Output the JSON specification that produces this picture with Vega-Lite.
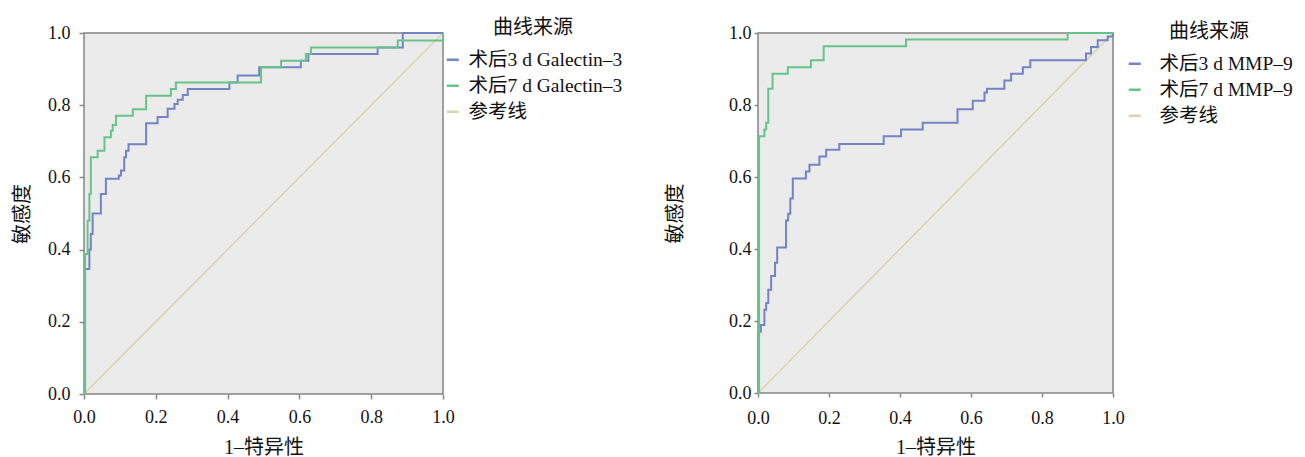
{
  "$schema": "https://vega.github.io/schema/vega-lite/v6.json",
  "background": "#ffffff",
  "padding": {"left": 11, "top": 17, "right": 5, "bottom": 0},
  "spacing": 40,
  "config": {
    "view": {"fill": "#ebebeb", "stroke": "#858585", "strokeWidth": 1.5},
    "axis": {"grid": false, "domain": false, "tickColor": "#8a8a8a", "tickWidth": 1.5, "tickSize": 5,
             "labelFont": "Liberation Serif", "labelFontSize": 18, "labelColor": "#111111",
             "labelFlush": false, "labelOverlap": false,
             "titleFont": "Liberation Serif, Noto Sans CJK SC", "titleFontSize": 20, "titleFontWeight": "normal", "titleColor": "#111111"},
    "legend": {"orient": "none", "symbolType": "stroke", "symbolStrokeWidth": 2.5, "symbolSize": 144,
               "labelFont": "Liberation Serif, Noto Sans CJK SC", "labelFontSize": 19.5, "labelColor": "#111111",
               "titleFont": "Noto Sans CJK SC", "titleFontSize": 20, "titleFontWeight": "normal", "titleColor": "#111111",
               "titleAnchor": "middle", "titlePadding": 12, "rowPadding": 5, "padding": 0}
  },
  "datasets": {
    "roc": [
      {"p": "L", "s": "参考线", "x": 0, "y": 0, "o": 0},
      {"p": "L", "s": "参考线", "x": 1, "y": 1, "o": 1},
      {"p": "L", "s": "术后3 d Galectin–3", "x": 0, "y": 0, "o": 0},
      {"p": "L", "s": "术后3 d Galectin–3", "x": 0.003, "y": 0.346, "o": 1},
      {"p": "L", "s": "术后3 d Galectin–3", "x": 0.015, "y": 0.40, "o": 2},
      {"p": "L", "s": "术后3 d Galectin–3", "x": 0.019, "y": 0.443, "o": 3},
      {"p": "L", "s": "术后3 d Galectin–3", "x": 0.024, "y": 0.50, "o": 4},
      {"p": "L", "s": "术后3 d Galectin–3", "x": 0.047, "y": 0.554, "o": 5},
      {"p": "L", "s": "术后3 d Galectin–3", "x": 0.061, "y": 0.596, "o": 6},
      {"p": "L", "s": "术后3 d Galectin–3", "x": 0.097, "y": 0.605, "o": 7},
      {"p": "L", "s": "术后3 d Galectin–3", "x": 0.103, "y": 0.619, "o": 8},
      {"p": "L", "s": "术后3 d Galectin–3", "x": 0.112, "y": 0.656, "o": 9},
      {"p": "L", "s": "术后3 d Galectin–3", "x": 0.117, "y": 0.674, "o": 10},
      {"p": "L", "s": "术后3 d Galectin–3", "x": 0.124, "y": 0.692, "o": 11},
      {"p": "L", "s": "术后3 d Galectin–3", "x": 0.173, "y": 0.75, "o": 12},
      {"p": "L", "s": "术后3 d Galectin–3", "x": 0.205, "y": 0.767, "o": 13},
      {"p": "L", "s": "术后3 d Galectin–3", "x": 0.233, "y": 0.79, "o": 14},
      {"p": "L", "s": "术后3 d Galectin–3", "x": 0.252, "y": 0.803, "o": 15},
      {"p": "L", "s": "术后3 d Galectin–3", "x": 0.261, "y": 0.815, "o": 16},
      {"p": "L", "s": "术后3 d Galectin–3", "x": 0.275, "y": 0.828, "o": 17},
      {"p": "L", "s": "术后3 d Galectin–3", "x": 0.289, "y": 0.845, "o": 18},
      {"p": "L", "s": "术后3 d Galectin–3", "x": 0.405, "y": 0.863, "o": 19},
      {"p": "L", "s": "术后3 d Galectin–3", "x": 0.428, "y": 0.882, "o": 20},
      {"p": "L", "s": "术后3 d Galectin–3", "x": 0.488, "y": 0.905, "o": 21},
      {"p": "L", "s": "术后3 d Galectin–3", "x": 0.604, "y": 0.923, "o": 22},
      {"p": "L", "s": "术后3 d Galectin–3", "x": 0.625, "y": 0.942, "o": 23},
      {"p": "L", "s": "术后3 d Galectin–3", "x": 0.818, "y": 0.960, "o": 24},
      {"p": "L", "s": "术后3 d Galectin–3", "x": 0.888, "y": 1.0, "o": 25},
      {"p": "L", "s": "术后3 d Galectin–3", "x": 1.0, "y": 1.0, "o": 26},
      {"p": "L", "s": "术后7 d Galectin–3", "x": 0, "y": 0, "o": 0},
      {"p": "L", "s": "术后7 d Galectin–3", "x": 0.003, "y": 0.388, "o": 1},
      {"p": "L", "s": "术后7 d Galectin–3", "x": 0.010, "y": 0.48, "o": 2},
      {"p": "L", "s": "术后7 d Galectin–3", "x": 0.015, "y": 0.554, "o": 3},
      {"p": "L", "s": "术后7 d Galectin–3", "x": 0.019, "y": 0.656, "o": 4},
      {"p": "L", "s": "术后7 d Galectin–3", "x": 0.038, "y": 0.674, "o": 5},
      {"p": "L", "s": "术后7 d Galectin–3", "x": 0.057, "y": 0.711, "o": 6},
      {"p": "L", "s": "术后7 d Galectin–3", "x": 0.075, "y": 0.729, "o": 7},
      {"p": "L", "s": "术后7 d Galectin–3", "x": 0.080, "y": 0.745, "o": 8},
      {"p": "L", "s": "术后7 d Galectin–3", "x": 0.089, "y": 0.771, "o": 9},
      {"p": "L", "s": "术后7 d Galectin–3", "x": 0.136, "y": 0.789, "o": 10},
      {"p": "L", "s": "术后7 d Galectin–3", "x": 0.173, "y": 0.826, "o": 11},
      {"p": "L", "s": "术后7 d Galectin–3", "x": 0.242, "y": 0.845, "o": 12},
      {"p": "L", "s": "术后7 d Galectin–3", "x": 0.256, "y": 0.863, "o": 13},
      {"p": "L", "s": "术后7 d Galectin–3", "x": 0.493, "y": 0.905, "o": 14},
      {"p": "L", "s": "术后7 d Galectin–3", "x": 0.549, "y": 0.923, "o": 15},
      {"p": "L", "s": "术后7 d Galectin–3", "x": 0.618, "y": 0.942, "o": 16},
      {"p": "L", "s": "术后7 d Galectin–3", "x": 0.632, "y": 0.960, "o": 17},
      {"p": "L", "s": "术后7 d Galectin–3", "x": 0.874, "y": 0.979, "o": 18},
      {"p": "L", "s": "术后7 d Galectin–3", "x": 1.0, "y": 1.0, "o": 19},
      {"p": "R", "s": "参考线", "x": 0, "y": 0, "o": 0},
      {"p": "R", "s": "参考线", "x": 1, "y": 1, "o": 1},
      {"p": "R", "s": "术后3 d MMP–9", "x": 0, "y": 0, "o": 0},
      {"p": "R", "s": "术后3 d MMP–9", "x": 0.002, "y": 0.170, "o": 1},
      {"p": "R", "s": "术后3 d MMP–9", "x": 0.008, "y": 0.189, "o": 2},
      {"p": "R", "s": "术后3 d MMP–9", "x": 0.018, "y": 0.231, "o": 3},
      {"p": "R", "s": "术后3 d MMP–9", "x": 0.023, "y": 0.25, "o": 4},
      {"p": "R", "s": "术后3 d MMP–9", "x": 0.029, "y": 0.287, "o": 5},
      {"p": "R", "s": "术后3 d MMP–9", "x": 0.037, "y": 0.325, "o": 6},
      {"p": "R", "s": "术后3 d MMP–9", "x": 0.048, "y": 0.362, "o": 7},
      {"p": "R", "s": "术后3 d MMP–9", "x": 0.054, "y": 0.404, "o": 8},
      {"p": "R", "s": "术后3 d MMP–9", "x": 0.079, "y": 0.479, "o": 9},
      {"p": "R", "s": "术后3 d MMP–9", "x": 0.085, "y": 0.498, "o": 10},
      {"p": "R", "s": "术后3 d MMP–9", "x": 0.091, "y": 0.540, "o": 11},
      {"p": "R", "s": "术后3 d MMP–9", "x": 0.098, "y": 0.596, "o": 12},
      {"p": "R", "s": "术后3 d MMP–9", "x": 0.135, "y": 0.615, "o": 13},
      {"p": "R", "s": "术后3 d MMP–9", "x": 0.145, "y": 0.634, "o": 14},
      {"p": "R", "s": "术后3 d MMP–9", "x": 0.173, "y": 0.657, "o": 15},
      {"p": "R", "s": "术后3 d MMP–9", "x": 0.192, "y": 0.676, "o": 16},
      {"p": "R", "s": "术后3 d MMP–9", "x": 0.229, "y": 0.692, "o": 17},
      {"p": "R", "s": "术后3 d MMP–9", "x": 0.354, "y": 0.713, "o": 18},
      {"p": "R", "s": "术后3 d MMP–9", "x": 0.403, "y": 0.732, "o": 19},
      {"p": "R", "s": "术后3 d MMP–9", "x": 0.464, "y": 0.751, "o": 20},
      {"p": "R", "s": "术后3 d MMP–9", "x": 0.562, "y": 0.788, "o": 21},
      {"p": "R", "s": "术后3 d MMP–9", "x": 0.605, "y": 0.812, "o": 22},
      {"p": "R", "s": "术后3 d MMP–9", "x": 0.638, "y": 0.835, "o": 23},
      {"p": "R", "s": "术后3 d MMP–9", "x": 0.645, "y": 0.845, "o": 24},
      {"p": "R", "s": "术后3 d MMP–9", "x": 0.694, "y": 0.868, "o": 25},
      {"p": "R", "s": "术后3 d MMP–9", "x": 0.713, "y": 0.887, "o": 26},
      {"p": "R", "s": "术后3 d MMP–9", "x": 0.746, "y": 0.905, "o": 27},
      {"p": "R", "s": "术后3 d MMP–9", "x": 0.767, "y": 0.924, "o": 28},
      {"p": "R", "s": "术后3 d MMP–9", "x": 0.924, "y": 0.943, "o": 29},
      {"p": "R", "s": "术后3 d MMP–9", "x": 0.938, "y": 0.961, "o": 30},
      {"p": "R", "s": "术后3 d MMP–9", "x": 0.957, "y": 0.980, "o": 31},
      {"p": "R", "s": "术后3 d MMP–9", "x": 0.985, "y": 0.990, "o": 32},
      {"p": "R", "s": "术后3 d MMP–9", "x": 1.0, "y": 1.0, "o": 33},
      {"p": "R", "s": "术后7 d MMP–9", "x": 0, "y": 0, "o": 0},
      {"p": "R", "s": "术后7 d MMP–9", "x": 0.003, "y": 0.713, "o": 1},
      {"p": "R", "s": "术后7 d MMP–9", "x": 0.018, "y": 0.732, "o": 2},
      {"p": "R", "s": "术后7 d MMP–9", "x": 0.023, "y": 0.751, "o": 3},
      {"p": "R", "s": "术后7 d MMP–9", "x": 0.029, "y": 0.845, "o": 4},
      {"p": "R", "s": "术后7 d MMP–9", "x": 0.041, "y": 0.887, "o": 5},
      {"p": "R", "s": "术后7 d MMP–9", "x": 0.084, "y": 0.905, "o": 6},
      {"p": "R", "s": "术后7 d MMP–9", "x": 0.149, "y": 0.924, "o": 7},
      {"p": "R", "s": "术后7 d MMP–9", "x": 0.185, "y": 0.963, "o": 8},
      {"p": "R", "s": "术后7 d MMP–9", "x": 0.417, "y": 0.982, "o": 9},
      {"p": "R", "s": "术后7 d MMP–9", "x": 0.872, "y": 1.0, "o": 10},
      {"p": "R", "s": "术后7 d MMP–9", "x": 1.0, "y": 1.0, "o": 11}
    ]
  },
  "resolve": {"scale": {"color": "independent", "x": "independent", "y": "independent"}, "legend": {"color": "independent"}},
  "hconcat": [
    {
      "width": 359, "height": 361,
      "data": {"name": "roc"},
      "transform": [{"filter": "datum.p === 'L'"}],
      "encoding": {
        "x": {"field": "x", "type": "quantitative", "scale": {"domain": [0, 1], "nice": false},
              "axis": {"values": [0, 0.2, 0.4, 0.6, 0.8, 1.0], "format": ".1f", "title": "1–特异性", "labelPadding": 9, "titlePadding": 11}},
        "y": {"field": "y", "type": "quantitative", "scale": {"domain": [0, 1], "nice": false},
              "axis": {"values": [0, 0.2, 0.4, 0.6, 0.8, 1.0], "format": ".1f", "title": "敏感度", "labelPadding": 9, "titlePadding": 15}},
        "color": {"field": "s", "type": "nominal",
                  "scale": {"domain": ["术后3 d Galectin–3", "术后7 d Galectin–3", "参考线"], "range": ["#7384c4", "#66c389", "#d9d5aa"]},
                  "legend": {"title": "曲线来源", "orient": "none", "legendX": 359, "legendY": -15, "labelOffset": 6}},
        "order": {"field": "o", "type": "quantitative"}
      },
      "layer": [
        {"transform": [{"filter": "datum.s === '参考线'"}], "mark": {"type": "line", "strokeWidth": 1.5}, "encoding": {}},
        {"transform": [{"filter": "datum.s !== '参考线'"}], "mark": {"type": "line", "interpolate": "step-after", "strokeWidth": 2}, "encoding": {}}
      ]
    },
    {
      "width": 355, "height": 360,
      "data": {"name": "roc"},
      "transform": [{"filter": "datum.p === 'R'"}],
      "encoding": {
        "x": {"field": "x", "type": "quantitative", "scale": {"domain": [0, 1], "nice": false},
              "axis": {"values": [0, 0.2, 0.4, 0.6, 0.8, 1.0], "format": ".1f", "title": "1–特异性", "tickSize": 4, "labelPadding": 12, "titlePadding": 10}},
        "y": {"field": "y", "type": "quantitative", "scale": {"domain": [0, 1], "nice": false},
              "axis": {"values": [0, 0.2, 0.4, 0.6, 0.8, 1.0], "format": ".1f", "title": "敏感度", "tickSize": 4, "labelPadding": 3, "titlePadding": 43}},
        "color": {"field": "s", "type": "nominal",
                  "scale": {"domain": ["术后3 d MMP–9", "术后7 d MMP–9", "参考线"], "range": ["#7384c4", "#66c389", "#d9d5aa"]},
                  "legend": {"title": "曲线来源", "orient": "none", "legendX": 367, "legendY": -11, "labelOffset": 15}},
        "order": {"field": "o", "type": "quantitative"}
      },
      "layer": [
        {"transform": [{"filter": "datum.s === '参考线'"}], "mark": {"type": "line", "strokeWidth": 1.5}, "encoding": {}},
        {"transform": [{"filter": "datum.s !== '参考线'"}], "mark": {"type": "line", "interpolate": "step-after", "strokeWidth": 2}, "encoding": {}}
      ]
    }
  ]
}
